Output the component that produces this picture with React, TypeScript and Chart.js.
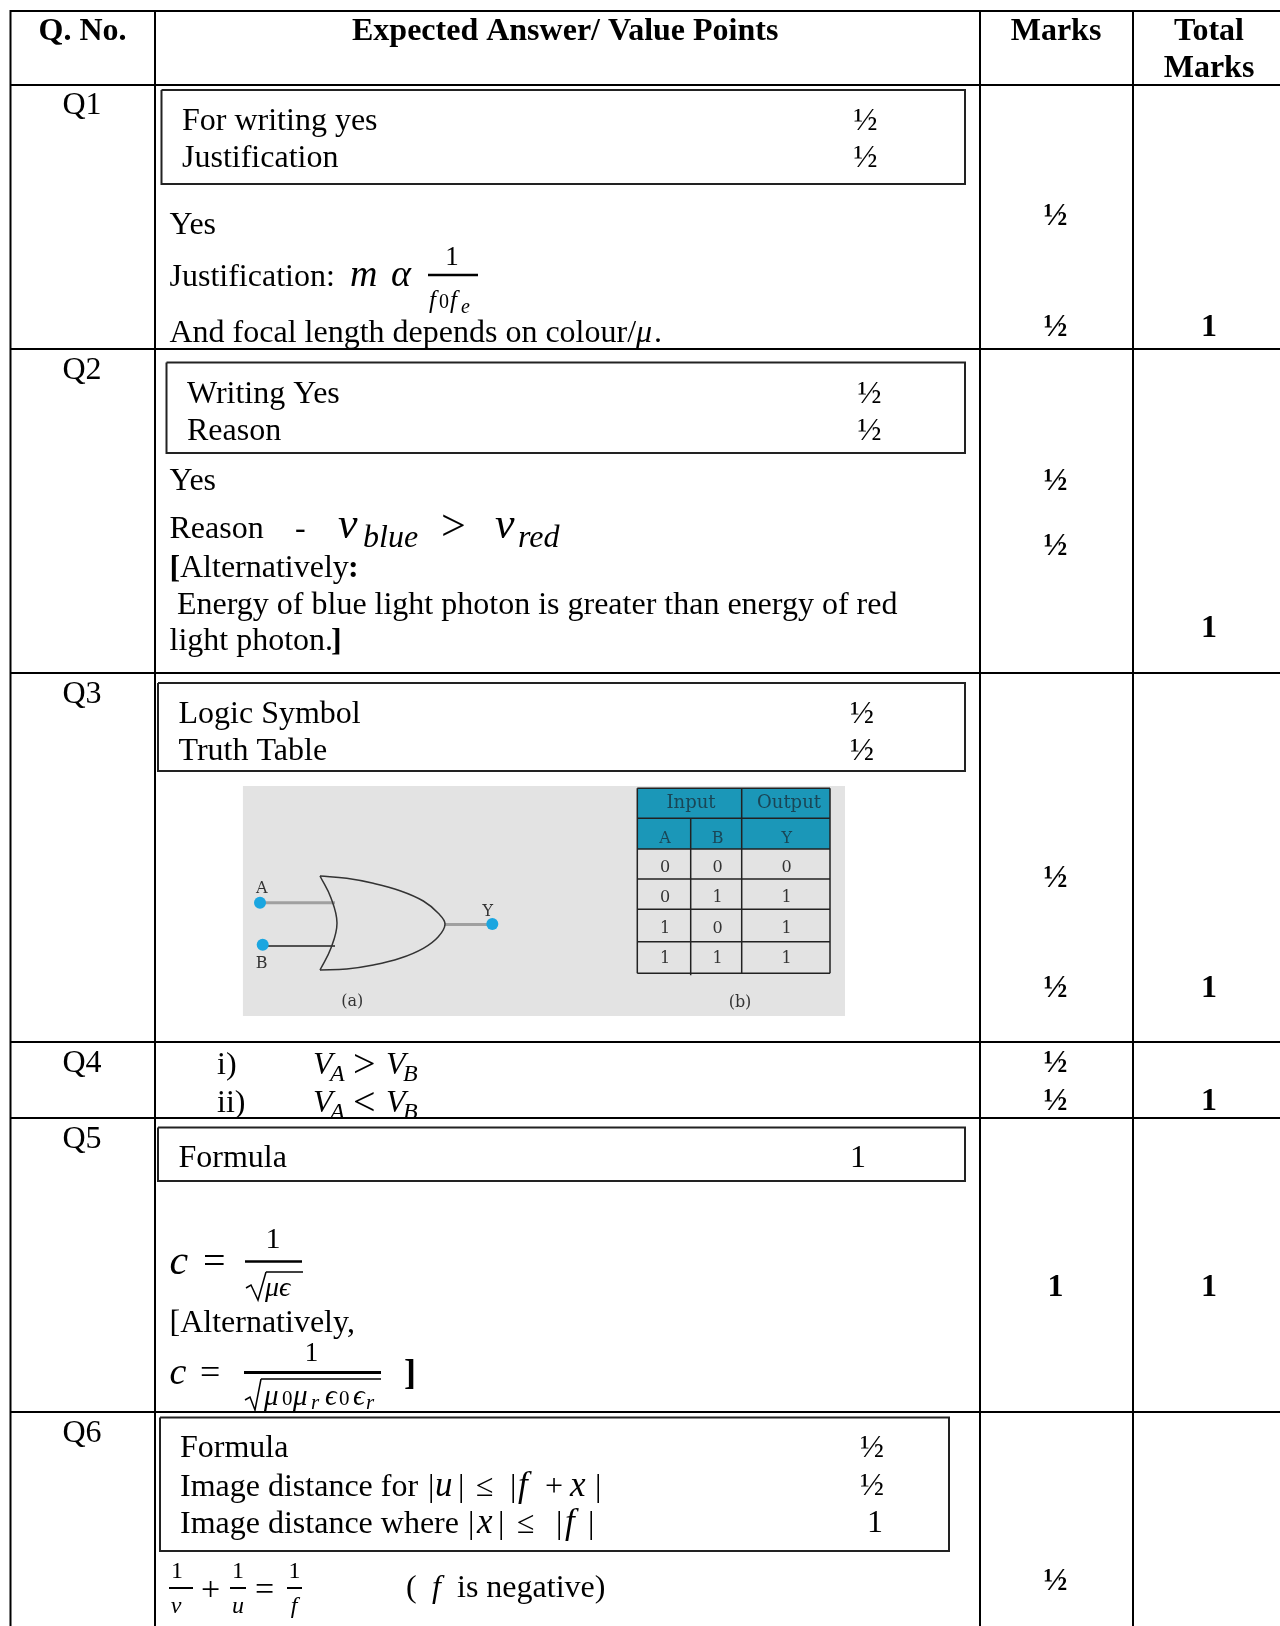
import React, { useEffect, useRef } from "react";
import { Chart, registerables } from "chart.js";

Chart.register(...registerables);

type Pt = { x: number; y: number };
type Txt = [string, number, number, string, string?, string?];

const PAGE_W = 1280;
const PAGE_H = 1626;
const R = "32px 'Liberation Serif'";
const B = "bold 32px 'Liberation Serif'";
const I = "italic 32px 'Liberation Serif'";
const M = "italic 38px 'Liberation Serif'";
const S = "italic 25px 'Liberation Serif'";
const E = "italic 35px 'Liberation Serif'";
const Z = "italic 24px 'Liberation Serif'";
const C = "40px 'Liberation Serif'";
const G = "italic 29px 'Liberation Serif'";
const D = "21px 'Liberation Serif'";
const H = "italic 21px 'Liberation Serif'";
const P = "16px 'DejaVu Serif'";
const T = "18px 'DejaVu Serif'";
const INK = "#000000";
const PINK = "#333333";
const PHEAD = "#1a4656";

// table rules: [x1, y1, x2, y2]
const tableRules = [
  [10, 11, 1280, 11],
  [10, 85, 1280, 85],
  [10, 349, 1280, 349],
  [10, 673, 1280, 673],
  [10, 1042, 1280, 1042],
  [10, 1118, 1280, 1118],
  [10, 1412, 1280, 1412],
  [10.5, 10, 10.5, 1626],
  [155, 10, 155, 1626],
  [980, 10, 980, 1626],
  [1133, 10, 1133, 1626],
];

// marking boxes: [left, top, right, bottom]
const markBoxes = [
  [161.5, 90, 965, 184],
  [166.5, 362.5, 965, 453],
  [158, 683, 965, 771],
  [158, 1127.5, 965, 1181],
  [160, 1417.5, 949, 1551],
];

// fraction bars and vincula: [x1, y1, x2, y2, width]
const mathBars = [
  [428, 275, 478, 275, 2.5],
  [245, 1261.5, 302, 1261.5, 2.5],
  [266, 1272, 303, 1272, 1.5],
  [244, 1372.5, 381, 1372.5, 3],
  [261, 1379, 381, 1379, 1.5],
  [169, 1588, 193, 1588, 2],
  [230, 1588, 246, 1588, 2],
  [287, 1588, 302, 1588, 2],
];

const radicals: Pt[][] = [
  [{ x: 246, y: 1288 }, { x: 251, y: 1285 }, { x: 258, y: 1300 }, { x: 266, y: 1272 }],
  [{ x: 245, y: 1400 }, { x: 250, y: 1397 }, { x: 255, y: 1410 }, { x: 261, y: 1379 }],
];

// OR gate outline
const gateFront: Pt[] = [
  { x: 320, y: 876 }, { x: 346.7, y: 878.3 }, { x: 373.3, y: 883.3 }, { x: 400, y: 890.7 },
  { x: 423.3, y: 901 }, { x: 438.3, y: 913.3 }, { x: 445, y: 924 }, { x: 438.3, y: 936.7 },
  { x: 423.3, y: 948.3 }, { x: 400, y: 958.3 }, { x: 373.3, y: 965 }, { x: 346.7, y: 969 }, { x: 320, y: 970 },
];
const gateBack: Pt[] = [
  { x: 320, y: 876 }, { x: 331, y: 898 }, { x: 337, y: 923 }, { x: 331, y: 948 }, { x: 320, y: 970 },
];
const gateLeads = [
  [262, 902.7, 335, 902.7, 3, "#a0a0a0"],
  [264, 946, 335, 946, 1.5, "#222222"],
  [445, 924.5, 490, 924.5, 3, "#a0a0a0"],
];
const gateDots: Pt[] = [{ x: 260, y: 902.7 }, { x: 262.7, y: 944.7 }, { x: 492.3, y: 924 }];

// truth table grid
const truthX = [637.3, 690.7, 741.7, 830];
const truthY = [788.3, 818.3, 849, 879, 909.3, 941.7, 973.3];

const headers: Txt[] = [
  ["Q. No.", 82.5, 40, B, "center"],
  ["Expected Answer/ Value Points", 352, 40, B],
  ["Marks", 1056, 40, B, "center"],
  ["Total", 1209, 40, B, "center"],
  ["Marks", 1209, 77, B, "center"],
];

const questionLabels: Txt[] = [
  ["Q1", 82, 114, R, "center"],
  ["Q2", 82, 379, R, "center"],
  ["Q3", 82, 703, R, "center"],
  ["Q4", 82, 1072, R, "center"],
  ["Q5", 82, 1148, R, "center"],
  ["Q6", 82, 1442, R, "center"],
];

const answerText: Txt[] = [
  ["For writing yes", 182, 130, R],
  ["Justification", 182, 167, R],
  ["½", 865.5, 130, R, "center"],
  ["½", 865.5, 167, R, "center"],
  ["Yes", 169.5, 234, R],
  ["Justification:", 169.5, 286, R],
  ["m", 350, 286, M],
  ["α", 391, 286, M],
  ["1", 452, 265, "27px 'Liberation Serif'", "center"],
  ["f", 429, 308, S],
  ["0", 439, 308, "20px 'Liberation Serif'"],
  ["f", 450, 308, S],
  ["e", 461, 313, "italic 20px 'Liberation Serif'"],
  ["And focal length depends on colour/", 169.5, 342, R],
  ["μ", 636, 342, I],
  [".", 654, 342, R],

  ["Writing Yes", 187, 402.5, R],
  ["Reason", 187, 440, R],
  ["½", 869.5, 402.5, R, "center"],
  ["½", 869.5, 440, R, "center"],
  ["Yes", 169.5, 490, R],
  ["Reason", 169.5, 538, R],
  ["-", 295, 538, R],
  ["v", 338, 538, "italic 44px 'Liberation Serif'"],
  ["blue", 363, 547, "italic 32px 'Liberation Serif'"],
  [">", 441, 540, "44px 'Liberation Serif'"],
  ["v", 495, 538, "italic 44px 'Liberation Serif'"],
  ["red", 518, 547, "italic 32px 'Liberation Serif'"],
  ["[", 169.5, 577, B],
  ["Alternatively", 180, 577, R],
  [":", 348, 577, B],
  ["Energy of blue light photon is greater than energy of red", 177, 614, R],
  ["light photon.", 169.5, 650, R],
  ["]", 331, 650, B],

  ["Logic Symbol", 178.5, 723, R],
  ["Truth Table", 178.5, 760, R],
  ["½", 862, 723, R, "center"],
  ["½", 862, 760, R, "center"],

  ["i)", 217, 1074, R],
  ["ii)", 217, 1112, R],
  ["V", 313, 1074, I],
  ["A", 330, 1081, Z],
  [">", 353, 1077, C],
  ["V", 386, 1074, I],
  ["B", 403, 1081, Z],
  ["V", 313, 1112, I],
  ["A", 330, 1119, Z],
  ["<", 353, 1115, C],
  ["V", 386, 1112, I],
  ["B", 403, 1119, Z],

  ["Formula", 178.5, 1167, R],
  ["1", 858, 1167, R, "center"],
  ["c", 169.5, 1274, "italic 42px 'Liberation Serif'"],
  ["=", 203, 1274, C],
  ["1", 273, 1248, "30px 'Liberation Serif'", "center"],
  ["μϵ", 265, 1296, "italic 28px 'Liberation Serif'"],
  ["[Alternatively,", 169.5, 1332, R],
  ["c", 169.5, 1384, "italic 38px 'Liberation Serif'"],
  ["=", 200, 1384, "36px 'Liberation Serif'"],
  ["1", 311.5, 1361, "27px 'Liberation Serif'", "center"],
  ["μ", 264, 1405, G],
  ["0", 282, 1405, D],
  ["μ", 293, 1405, G],
  ["r", 311, 1409, H],
  ["ϵ", 325, 1405, G],
  ["0", 339, 1405, D],
  ["ϵ", 353, 1405, G],
  ["r", 366, 1409, H],
  ["]", 404, 1384, "bold 36px 'Liberation Serif'"],

  ["Formula", 180, 1457, R],
  ["Image distance for", 180, 1496, R],
  ["|", 428, 1496, R], ["u", 435, 1496, E], ["|", 458, 1496, R],
  ["≤", 476, 1496, R],
  ["|", 510, 1496, R], ["f", 518, 1496, E], ["+", 545, 1496, R], ["x", 570, 1496, E], ["|", 595, 1496, R],
  ["Image distance where", 180, 1532.5, R],
  ["|", 468, 1532.5, R], ["x", 477, 1532.5, E], ["|", 498, 1532.5, R],
  ["≤", 517, 1532.5, R],
  ["|", 556, 1532.5, R], ["f", 565, 1532.5, E], ["|", 588, 1532.5, R],
  ["½", 872, 1457, R, "center"],
  ["½", 872, 1495, R, "center"],
  ["1", 875, 1532, R, "center"],
  ["1", 177, 1578, "24px 'Liberation Serif'", "center"],
  ["v", 176, 1613, "italic 24px 'Liberation Serif'", "center"],
  ["+", 201, 1600, "34px 'Liberation Serif'"],
  ["1", 238, 1578, "24px 'Liberation Serif'", "center"],
  ["u", 238, 1613, "italic 24px 'Liberation Serif'", "center"],
  ["=", 255, 1600, "34px 'Liberation Serif'"],
  ["1", 294.5, 1578, "24px 'Liberation Serif'", "center"],
  ["f", 294, 1613, "italic 24px 'Liberation Serif'", "center"],
  ["(", 406, 1597, R],
  ["f", 432, 1597, I],
  ["is negative)", 457, 1597, R],
];

const marksColumn: Txt[] = [
  ["½", 1055.5, 225, B, "center"],
  ["½", 1055.5, 336, B, "center"],
  ["½", 1055.5, 490, B, "center"],
  ["½", 1055.5, 555, B, "center"],
  ["½", 1055.5, 887, B, "center"],
  ["½", 1055.5, 997, B, "center"],
  ["½", 1055.5, 1072, B, "center"],
  ["½", 1055.5, 1110, B, "center"],
  ["1", 1055.5, 1296, B, "center"],
  ["½", 1055.5, 1590, B, "center"],
];

const totalColumn: Txt[] = [
  ["1", 1209, 336, B, "center"],
  ["1", 1209, 637, B, "center"],
  ["1", 1209, 997, B, "center"],
  ["1", 1209, 1110, B, "center"],
  ["1", 1209, 1296, B, "center"],
];

const pictureText: Txt[] = [
  ["A", 261.7, 893, P, "center", PINK],
  ["B", 261.7, 968, P, "center", PINK],
  ["Y", 487.7, 916, P, "center", PINK],
  ["(a)", 352.3, 1006, P, "center", PINK],
  ["(b)", 740, 1007, P, "center", PINK],
  ["Input", 691, 808, T, "center", PHEAD],
  ["Output", 789, 808, T, "center", PHEAD],
  ["A", 665, 843, P, "center", PHEAD],
  ["B", 717.7, 843, P, "center", PHEAD],
  ["Y", 786.7, 843, P, "center", PHEAD],
  ["0", 665, 871.7, P, "center", PINK], ["0", 717.7, 871.7, P, "center", PINK], ["0", 786.7, 871.7, P, "center", PINK],
  ["0", 665, 901.7, P, "center", PINK], ["1", 717.7, 901.7, P, "center", PINK], ["1", 786.7, 901.7, P, "center", PINK],
  ["1", 665, 932.7, P, "center", PINK], ["0", 717.7, 932.7, P, "center", PINK], ["1", 786.7, 932.7, P, "center", PINK],
  ["1", 665, 962.7, P, "center", PINK], ["1", 717.7, 962.7, P, "center", PINK], ["1", 786.7, 962.7, P, "center", PINK],
];

const allText = [...headers, ...questionLabels, ...answerText, ...marksColumn, ...totalColumn, ...pictureText];

const seg = (a: number[], width: number, color: string) => ({
  type: "scatter" as const,
  data: [{ x: a[0], y: a[1] }, { x: a[2], y: a[3] }],
  showLine: true,
  borderColor: color,
  borderWidth: width,
  pointRadius: 0,
});

const path = (d: Pt[], width: number, color: string, tension = 0) => ({
  type: "scatter" as const,
  data: d,
  showLine: true,
  tension,
  borderColor: color,
  borderWidth: width,
  pointRadius: 0,
});

const textPlugin = {
  id: "pageText",
  afterDraw(chart: any) {
    const { ctx, scales } = chart;
    ctx.save();
    ctx.textBaseline = "alphabetic";
    for (const [s, x, y, font, align, color] of allText) {
      ctx.font = font;
      ctx.textAlign = align || "left";
      ctx.fillStyle = color || INK;
      ctx.fillText(s, scales.x.getPixelForValue(x), scales.y.getPixelForValue(y));
    }
    ctx.restore();
  },
};

export default function App() {
  const ref = useRef<HTMLCanvasElement>(null);
  useEffect(() => {
    document.body.style.margin = "0";
    document.body.style.background = "#ffffff";
    const [x0, x1, x2, x3] = truthX;
    const yy = truthY;
    const grid: number[][] = [
      ...yy.map((y) => [x0, y, x3, y]),
      [x0, yy[0], x0, yy[6]],
      [x1, yy[1], x1, yy[6] + 2],
      [x2, yy[0], x2, yy[6]],
      [x3, yy[0], x3, yy[6]],
    ];
    const datasets: any[] = [
      ...tableRules.map((r) => seg(r, 2, INK)),
      ...markBoxes.map(([l, t, r, b]) =>
        path([{ x: l, y: t }, { x: r, y: t }, { x: r, y: b }, { x: l, y: b }, { x: l, y: t }], 2, "#222222")
      ),
      ...mathBars.map((b) => seg(b, b[4], INK)),
      ...radicals.map((d) => path(d, 1.5, INK)),
      {
        type: "scatter",
        data: gateDots,
        pointRadius: 6,
        pointBackgroundColor: "#1ba6e0",
        pointBorderWidth: 0,
        showLine: false,
      },
      path(gateFront, 1.5, "#333333", 0.4),
      path(gateBack, 1.5, "#333333", 0.4),
      ...gateLeads.map((l) => seg(l as number[], l[4] as number, l[5] as string)),
      ...grid.map((g) => seg(g, 1.5, "#222222")),
      {
        ...path([{ x: x0, y: yy[2] }, { x: x3, y: yy[2] }], 0, "#1b97b8"),
        fill: { value: yy[0] },
        backgroundColor: "#1b97b8",
      },
      {
        ...path([{ x: 242.7, y: 1016 }, { x: 845, y: 1016 }], 0, "#e3e3e3"),
        fill: { value: 786 },
        backgroundColor: "#e3e3e3",
      },
    ];
    const chart = new Chart(ref.current!, {
      type: "scatter",
      data: { datasets },
      options: {
        animation: false,
        responsive: false,
        layout: { padding: 0, autoPadding: false },
        plugins: { legend: { display: false }, tooltip: { enabled: false } },
        events: [],
        scales: {
          x: { type: "linear", min: 0, max: PAGE_W, display: false },
          y: { type: "linear", min: 0, max: PAGE_H, reverse: true, display: false },
        },
      },
      plugins: [textPlugin],
    });
    return () => chart.destroy();
  }, []);
  return (
    <canvas
      ref={ref}
      width={PAGE_W}
      height={PAGE_H}
      style={{ display: "block", width: PAGE_W, height: PAGE_H }}
    />
  );
}
